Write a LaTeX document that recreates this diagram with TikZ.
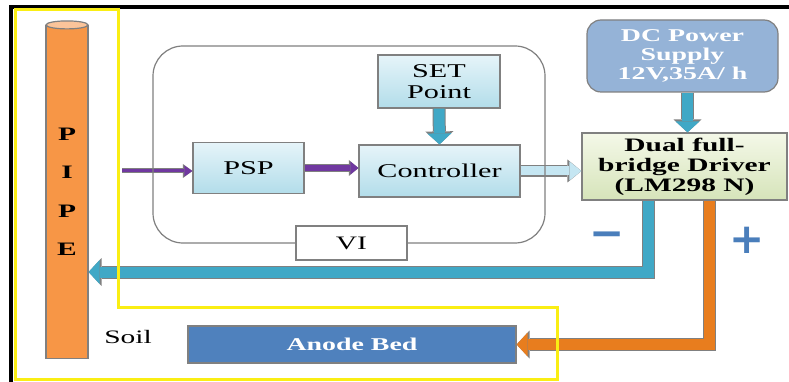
\documentclass[tikz,border=0pt]{standalone}
\usepackage{fontspec}
\setmainfont{Liberation Serif}[FakeStretch=1.55]
\newfontfamily\signfont{DejaVu Sans}
\usepackage{tikz}
\usetikzlibrary{arrows.meta,positioning}
\definecolor{edgegray}{RGB}{128,128,128}
\definecolor{boxtop}{RGB}{230,244,249}
\definecolor{boxbot}{RGB}{178,221,234}
\definecolor{drvtop}{RGB}{244,248,232}
\definecolor{drvbot}{RGB}{214,228,186}
\definecolor{supplyblue}{RGB}{149,179,215}
\definecolor{anodeblue}{RGB}{79,129,189}
\definecolor{pipeorange}{RGB}{247,150,70}
\definecolor{pipecap}{RGB}{251,196,154}
\definecolor{flowblue}{RGB}{64,168,198}
\definecolor{flowpurple}{RGB}{112,56,160}
\definecolor{flowlight}{RGB}{197,230,242}
\definecolor{wireorange}{RGB}{232,125,30}
\definecolor{signblue}{RGB}{74,126,187}
\definecolor{soilyellow}{RGB}{250,238,20}

\tikzset{
  lightbox/.style={draw=edgegray, line width=1.2pt, top color=boxtop, bottom color=boxbot,
    align=center, inner sep=0pt, font=\fontsize{19.5}{21}\selectfont},
  sense/.style={draw=flowpurple, line width=3pt, -{Triangle[length=8pt,width=11pt,line width=0pt]},
    preaction={draw=edgegray, line width=5pt, -{Triangle[length=9.5pt,width=14pt,line width=0pt]}}},
  pspflow/.style={draw=flowpurple, line width=6pt, -{Triangle[length=8pt,width=13pt,line width=0pt]},
    preaction={draw=edgegray, line width=8pt, -{Triangle[length=9.5pt,width=16pt,line width=0pt]}}},
  bigflow/.style={draw=#1, line width=11pt, -{Triangle[length=11pt,width=24pt,line width=0pt]},
    preaction={draw=edgegray, line width=13pt, -{Triangle[length=13pt,width=28pt,line width=0pt]}}},
  cmdflow/.style={draw=flowlight, line width=9pt, -{Triangle[length=12pt,width=19pt,line width=0pt]},
    preaction={draw=edgegray, line width=11.5pt, -{Triangle[length=14pt,width=23pt,line width=0pt]}}},
  signtext/.style={text=signblue, font=\signfont\bfseries\fontsize{42}{42}\selectfont, inner sep=0pt}
}

\begin{document}
\begin{tikzpicture}[x=1pt,y=-1pt]
\useasboundingbox (0,0) rectangle (789,382);
\fill[white] (0,0) rectangle (789,382);
\draw[black, line width=4pt] (11,382) -- (11,7) -- (789,7);

% pipe in the soil
\node[draw=edgegray, line width=1.2pt, fill=pipeorange, minimum width=42pt, minimum height=333pt,
  inner sep=0pt, align=center, font=\bfseries\fontsize{19}{38.5}\selectfont] (pipe) at (67,192) {P\\I\\P\\E};
\draw[edgegray, line width=1.2pt, fill=pipecap] (pipe.north) ellipse [x radius=21, y radius=4];

% control loop
\node[lightbox, minimum width=111pt, minimum height=51pt] (psp) at (248.5,168) {PSP};
\node[lightbox, minimum width=161pt, minimum height=52pt] (ctrl) at (439.5,171) {Controller};
\node[lightbox, minimum width=122pt, minimum height=53pt] (setpt) at (439,81.5) {SET\\Point};

% power side
\node[draw=edgegray, line width=1.2pt, fill=supplyblue, rounded corners=14pt, minimum width=191pt,
  minimum height=72pt, inner sep=0pt, align=center, text=white,
  font=\bfseries\fontsize{18}{19}\selectfont] (dc) at (682.5,56) {DC Power\\Supply\\12V,35A/ h};
\node[draw=edgegray, line width=1.2pt, top color=drvtop, bottom color=drvbot, minimum width=205pt,
  minimum height=67pt, inner sep=0pt, align=center,
  font=\bfseries\fontsize{19}{20}\selectfont] (drv) at (684.5,166.5) {Dual full-\\bridge Driver\\(LM298 N)};
\node[draw=edgegray, line width=1.2pt, fill=anodeblue, minimum width=328pt, minimum height=37pt,
  inner sep=0pt, text=white, font=\bfseries\fontsize{18}{20}\selectfont] (anode) at (352,344.5) {Anode Bed};
\node[font=\fontsize{19}{21}\selectfont, inner sep=0pt] (soil) at (128,337) {Soil};
\node[signtext] (neg) at (607,240) {−};
\node[signtext] (pos) at (747,240) {+};

% signal and power flow
\coordinate (tap) at (122,171);
\draw[sense] (tap) -- (tap -| psp.west);
\draw[pspflow] (psp.east) -- (psp.east -| ctrl.west);
\draw[bigflow=flowblue] (setpt.south) -- (ctrl.north);
\draw[cmdflow] (ctrl.east) -- (ctrl.east -| drv.west);
\draw[bigflow=flowblue] ([xshift=5pt]dc.south) -- ([xshift=5pt]dc.south |- drv.north);
\draw[bigflow=flowblue] ([xshift=-36pt]drv.south) |- ([yshift=-80pt]pipe.east);
\draw[bigflow=wireorange] ([xshift=24.5pt]drv.south) |- (anode.east);

\draw[edgegray, line width=1.2pt, rounded corners=30pt] (153,46) rectangle (545,243);
\node[draw=edgegray, line width=1.2pt, fill=white, minimum width=111pt, minimum height=34pt,
  inner sep=0pt, font=\fontsize{19}{21}\selectfont] (vi) at (351.5,243) {VI};

% soil region
\draw[soilyellow, line width=3pt] (15,10) -- (118,10) -- (118,307) -- (557,307) -- (557,379) -- (15,379) -- cycle;
\end{tikzpicture}
\end{document}
